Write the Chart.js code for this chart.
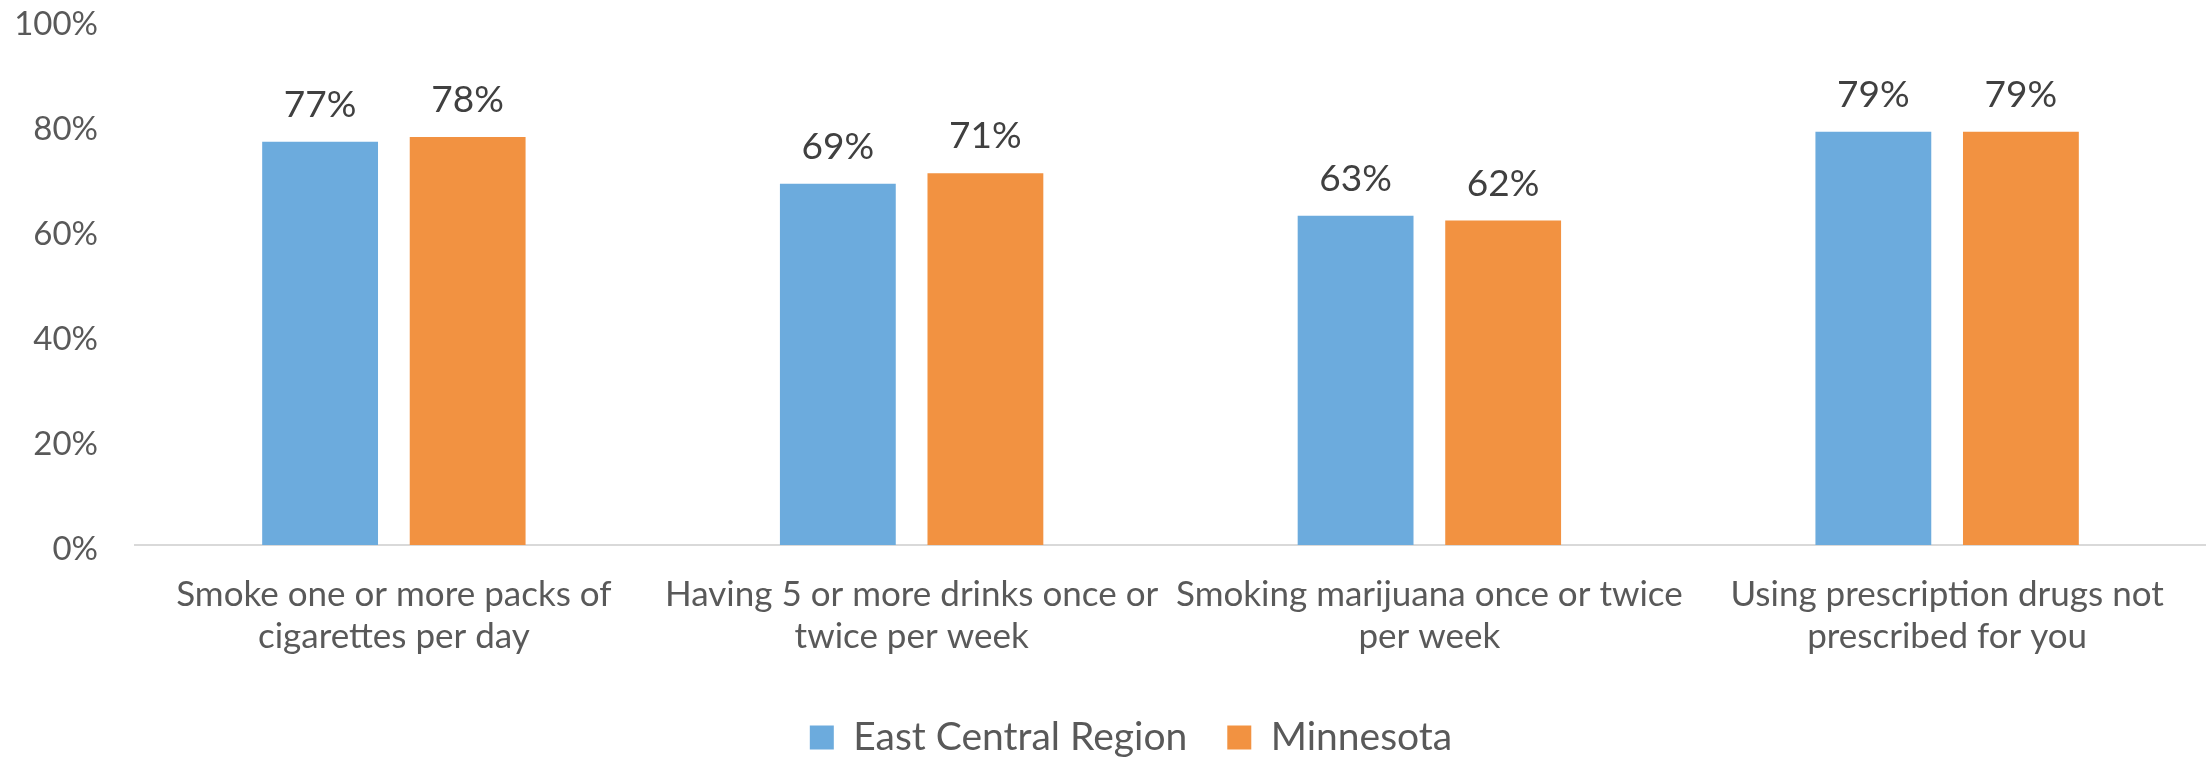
<!DOCTYPE html>
<html>
<head>
<meta charset="utf-8">
<script src="https://cdn.jsdelivr.net/npm/chart.js@4.4.1/dist/chart.umd.min.js"></script>
<style>
  html, body { margin: 0; padding: 0; background: #fff; }
  #wrap { width: 2206px; height: 759px; }
</style>
</head>
<body>
<div id="wrap"><canvas id="chart" width="2206" height="759"></canvas></div>
<script>
// categories (multi-line, as wrapped in the original)
const categories = [
    ['Smoke one or more packs of', 'cigarettes per day'],
    ['Having 5 or more drinks once or', 'twice per week'],
    ['Smoking marijuana once or twice', 'per week'],
    ['Using prescription drugs not', 'prescribed for you']
];
const seriesNames = ['East Central Region', 'Minnesota'];
const eastCentral = [76.8, 68.8, 62.7, 78.7];
const minnesota = [77.7, 70.8, 61.8, 78.7];
const yTicks = [0, 20, 40, 60, 80, 100];

const BLUE = '#6CABDD';
const ORANGE = '#F29241';
const FONT = 'Lato, "Open Sans", sans-serif';

// value labels above each bar
const barLabels = {
    id: 'barLabels',
    afterDatasetsDraw(chart) {
        const ctx = chart.ctx;
        ctx.save();
        ctx.font = '37px ' + FONT;
        ctx.fillStyle = '#404040';
        ctx.textAlign = 'center';
        ctx.textBaseline = 'alphabetic';
        chart.data.datasets.forEach((ds, i) => {
            chart.getDatasetMeta(i).data.forEach((bar, j) => {
                ctx.fillText(Math.round(ds.data[j]) + '%', bar.x, bar.y - 25);
            });
        });
        ctx.restore();
    }
};

// nudge the legend to where Excel puts it
const legendShift = {
    id: 'legendShift',
    afterLayout(chart) {
        const lg = chart.legend;
        lg.left += 28; lg.right += 28;
        lg.top += 8; lg.bottom += 8;
    }
};

new Chart(document.getElementById('chart'), {
    type: 'bar',
    data: {
        labels: categories,
        datasets: [
            { label: seriesNames[0], data: eastCentral, backgroundColor: BLUE },
            { label: seriesNames[1], data: minnesota, backgroundColor: ORANGE }
        ]
    },
    options: {
        responsive: false,
        animation: false,
        devicePixelRatio: 1,
        categoryPercentage: 0.57,
        barPercentage: 0.785,
        layout: { padding: 0 },
        plugins: {
            legend: {
                position: 'bottom',
                labels: {
                    font: { family: FONT, size: 39 },
                    color: '#595959',
                    boxWidth: 24,
                    boxHeight: 24,
                    padding: 40
                }
            },
            tooltip: { enabled: false }
        },
        scales: {
            x: {
                afterFit(scale) { scale.height = 125; },
                grid: { display: false, drawTicks: false },
                border: { display: true, color: '#D9D9D9', width: 2 },
                ticks: {
                    font: { family: FONT, size: 35, lineHeight: 1.2 },
                    color: '#595959',
                    padding: 29,
                    maxRotation: 0,
                    autoSkip: false
                }
            },
            y: {
                min: 0,
                max: 100,
                afterFit(scale) {
                    scale.width = 135;
                    scale.paddingTop = 20;
                    scale.paddingBottom = 0;
                },
                afterBuildTicks(scale) { scale.ticks = yTicks.map(v => ({ value: v })); },
                grid: { display: false, drawTicks: false },
                border: { display: false },
                ticks: {
                    font: { family: FONT, size: 33 },
                    color: '#595959',
                    padding: 37,
                    labelOffset: 4,
                    callback: v => v + '%'
                }
            }
        }
    },
    plugins: [barLabels, legendShift]
});
</script>
</body>
</html>
